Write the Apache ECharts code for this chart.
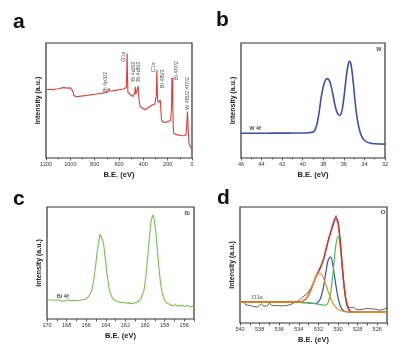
<!DOCTYPE html>
<html><head><meta charset="utf-8">
<script src="https://cdn.jsdelivr.net/npm/echarts@6/dist/echarts.min.js"></script>
<style>html,body{margin:0;padding:0;background:#fff}#c{width:420px;height:350px}</style>
</head><body><div id="c"></div>
<script>
// ---------- Panel a: survey spectrum [B.E., intensity] ----------
const surveyData = [
[1200,60],[1190,60.8],[1180,59.5],[1170,60.5],[1160,59.8],[1150,60.3],[1140,59.2],[1130,60.6],[1120,60.0],[1110,61.0],
[1100,60.2],[1090,59.6],[1080,60.7],[1070,60.1],[1060,61.2],[1050,60.4],[1040,61.0],[1030,61.4],[1020,60.8],[1010,61.6],
[1000,61.0],[992,62.0],[985,61.5],[978,58.0],[972,54.5],[965,53.0],[955,53.4],[945,52.8],[935,53.5],[925,53.1],
[915,53.8],[905,53.4],[895,54.0],[885,53.6],[875,54.3],[865,54.0],[855,54.6],[845,54.2],[835,54.9],[825,54.5],
[815,55.2],[805,54.8],[795,55.5],[785,55.1],[775,55.8],[765,55.4],[755,56.1],[745,55.7],[735,56.4],[725,56.0],
[715,56.8],[705,56.5],[695,57.2],[688,58.0],[682,60.5],[678,58.2],[670,57.5],[660,58.2],[650,57.8],[640,58.6],
[630,58.2],[620,59.0],[610,58.7],[600,59.4],[590,59.0],[580,59.8],[570,59.3],[560,60.0],[550,59.6],[545,60.4],
[540,61.5],[536,75],[533,91],[530,72],[527,57],[522,55.5],[515,56.2],[505,55.0],[495,54.3],[485,53.5],
[478,54.0],[470,56.5],[466,62.0],[462,55.5],[455,54.8],[447,56.0],[443,62.5],[439,55.0],[432,48.0],[425,44.5],
[415,44.0],[405,43.2],[395,42.8],[385,42.0],[375,43.0],[365,43.5],[355,44.2],[345,45.0],[335,45.5],[325,46.0],
[315,46.8],[305,47.0],[298,48.0],[293,55],[289,76.5],[286,62],[283,50],[278,48.5],[272,48.2],[266,48.0],
[262,50.5],[259,48.5],[255,40.0],[250,33.0],[245,31.5],[235,31.0],[225,31.8],[215,31.2],[205,32.0],[195,31.6],
[185,32.3],[175,33.0],[168,45],[165,69.5],[162,50],[159,70],[157,45],[154,26],[150,21.5],[140,20.8],
[130,20.3],[120,20.6],[110,19.9],[100,20.2],[90,19.6],[80,19.9],[70,19.4],[60,19.0],[50,20],[45,25],
[41,33],[37,40.5],[34,39],[31,25],[25,13],[18,11],[10,9.8],[5,8.5],[0,8.0]
];
const surveyLabels = ['Bi 4p3/2','O1s','Bi 4d3/2','Bi 4d5/2','C1s','Bi 4f5/2','Bi 4f7/2','W 4f5/2 4f7/2'];
const surveyLabelPos = [[715,66],[562,88],[478,75],[436,75],[316,79],[241,69],[126,76],[41,56]];

// ---------- Panel b: W 4f ----------
const wData = [
[46,21.5],[45,21.5],[44,21.5],[43,21.6],[42,21.6],[41,21.7],[40,21.8],[39.5,22.0],[39.0,22.6],[38.8,24.5],
[38.6,30],[38.4,40],[38.2,53],[38.0,62],[37.8,67.5],[37.6,69],[37.4,67],[37.2,61],[37.0,52],[36.8,43.5],
[36.6,38.5],[36.4,37],[36.2,40.5],[36.0,52],[35.8,68],[35.6,80.5],[35.45,84],[35.3,81],[35.1,67],[34.9,48],
[34.7,34],[34.5,25],[34.3,19.5],[34.1,16.3],[33.8,14],[33.4,12.8],[33.0,12.4],[32.5,12.2],[32,12.1]
];
const wLabels = ['W 4f','W'];
const wLabelPos = [[45.2,25.8],[32.6,94.5]];

// ---------- Panel c: Bi 4f (170.0 -> 155.0, step 0.1) ----------
const biStart = 170.0, biStep = 0.1;
const biI = [
17.2,16.5,17.6,16.9,17.8,16.2,17.0,16.4,17.5,16.8,
17.9,16.3,17.1,16.6,17.4,16.0,16.9,17.3,16.1,17.0,
16.5,17.2,15.9,16.8,16.2,17.1,15.8,16.7,16.1,17.0,
16.4,15.9,16.9,16.3,17.1,16.6,17.4,16.9,17.8,17.5,
18.3,18.6,19.6,20.4,22.3,24.1,26.8,30.9,36.5,43.4,
50.6,58.5,65.3,70.2,75.6,75.0,76.2,70.1,65.4,57.0,
50.3,41.6,35.9,29.1,25.4,22.1,20.6,18.4,17.9,16.5,
16.4,15.6,15.9,14.8,15.3,14.6,15.1,14.4,14.9,14.2,
14.7,14.0,14.6,13.9,14.4,13.8,14.5,13.7,14.3,14.0,
14.6,14.2,15.0,15.3,16.2,16.6,18.5,19.8,23.4,25.7,
32.3,39.0,48.8,57.6,68.9,77.2,86.1,90.2,93.0,90.9,
85.0,78.3,67.7,58.6,47.5,39.4,30.8,25.9,21.8,19.7,
16.8,16.1,14.3,14.2,12.9,13.2,12.3,12.9,11.8,12.6,
12.1,12.8,11.5,12.4,11.7,12.5,11.3,12.2,11.6,12.3,
11.2,12.0,11.4,12.1,10.9,11.8,11.2,11.9,10.8,11.5,
11.0
];
const biLabels = ['Bi 4f','Bi'];
const biLabelPos = [[169.0,20.5],[155.7,94]];

// ---------- Panel d: O 1s (raw 540.0 -> 525.0, step 0.2) ----------
const oStart = 540.0, oStep = 0.2;
const oRaw = [
17.5,16.2,17.8,15.6,16.9,15.1,16.4,14.2,15.9,13.8,
15.3,16.6,14.5,16.0,14.8,17.2,15.4,16.8,14.9,16.3,
15.0,16.1,14.7,15.8,15.2,16.5,16.0,17.4,17.9,18.6,
19.3,20.8,22.5,21.6,24.8,26.5,29.4,32.8,36.0,40.6,
44.1,47.0,51.9,56.3,63.8,70.5,77.2,83.5,88.9,92.6,
87.4,73.1,53.0,33.8,20.4,15.1,13.2,12.4,13.6,11.8,
12.9,11.5,13.1,12.0,10.9,12.6,11.3,12.2,10.8,11.9,
12.5,11.1,12.3,11.6,12.8,13.0
];
const fitBE = [540,538,536,535,534.5,534,533.75,533.5,533.25,533,532.75,532.5,532.25,532,531.75,531.5,531.25,531,530.75,530.5,530.25,530,529.75,529.5,529.25,529,528.75,528.5,528,527,526,525];
const fitEnvelope = [18,18,18,18,18,18.0,18.4,19.2,21.1,24.3,28.9,34.4,40.0,44.6,48.8,54.5,62.5,71.0,78.0,84.4,90.1,86.8,68.4,42.7,22.9,13.3,10.1,9.3,9.2,9.2,9.2,9.2];
const fitOrange   = [18,18,18,18,18,18.0,18.4,19.2,21.1,24.3,28.9,34.3,39.5,42.7,42.5,39.1,33.4,26.9,21.2,16.7,13.7,11.8,10.8,10.1,9.7,9.5,9.35,9.25,9.2,9.2,9.2,9.2];
const fitBlue     = [18,18,18,18,17.9,17.8,17.7,17.55,17.45,17.3,17.05,16.9,17.0,18.2,22.0,30.5,43.0,54.3,57.1,48.7,34.5,22.0,14.5,11.1,9.9,9.5,9.35,9.25,9.2,9.2,9.2,9.2];
const fitGreen    = [18,18,18,18,17.9,17.8,17.7,17.55,17.45,17.3,17.05,16.8,16.55,16.3,15.8,15.3,15.5,17.8,26.3,44.0,65.3,75,64.1,41.5,22.7,13.3,10.1,9.3,9.2,9.2,9.2,9.2];
const oLabels = ['O1s','O'];
const oLabelPos = [[538.8,22.2],[525.4,95]];

const panelLetters = ['a','b','c','d'];

// ---------- build ----------
const FONT = 'Liberation Sans, Arial, Helvetica, sans-serif';
const chart = echarts.init(document.getElementById('c'), null, {renderer:'canvas'});
const zip = (xs, ys) => xs.map((x,i)=>[x, ys[i]]);
const biData = biI.map((v,i)=>[+(biStart - i*biStep).toFixed(2), v]);
const oData = oRaw.map((v,i)=>[+(oStart - i*oStep).toFixed(2), v]);

const grids = [
  {left:46, top:43, width:146, height:115},
  {left:241, top:43, width:144, height:115},
  {left:47, top:207, width:147, height:112},
  {left:240, top:207, width:147, height:116}
].map(g=>Object.assign({show:true, borderColor:'#333', borderWidth:1.2, backgroundColor:'transparent', containLabel:false}, g));

const plainFmt = v => String(Math.round(v));
const evenFmt = v => (Math.round(v) % 2 === 0 ? String(Math.round(v)) : '');
function xAx(idx, min, max, interval, fmt, minor) {
  return {
    gridIndex: idx, type:'value', min, max, interval, inverse:true,
    axisLine:{show:false},
    axisTick:{show:true, length:2.5, inside:false, lineStyle:{color:'#333', width:0.8}},
    minorTick: minor ? {show:true, splitNumber:2, length:1.5, lineStyle:{color:'#333', width:0.8}} : {show:false},
    splitLine:{show:false},
    axisLabel:{fontSize:5.5, color:'#333', margin:3.5, fontFamily:FONT, formatter:fmt},
    name:'B.E. (eV)', nameLocation:'middle', nameGap:13,
    nameTextStyle:{fontSize:7.5, fontWeight:'bold', color:'#222', fontFamily:FONT}
  };
}
const xAxes = [
  xAx(0, 0, 1200, 200, plainFmt, true),
  xAx(1, 32, 46, 2, plainFmt, true),
  xAx(2, 155, 170, 1, evenFmt, false),
  xAx(3, 525, 540, 1, evenFmt, false)
];
const yAxes = [0,1,2,3].map(i=>({
  gridIndex:i, type:'value', min:0, max:100,
  axisLine:{show:false}, axisTick:{show:false}, axisLabel:{show:false}, splitLine:{show:false},
  name:'Intensity (a.u.)', nameLocation:'middle', nameGap:4, nameRotate:90,
  nameTextStyle:{fontSize:7, fontWeight:'bold', color:'#222', fontFamily:FONT}
}));

function lineS(idx, data, color, width, smooth, z) {
  return {type:'line', xAxisIndex:idx, yAxisIndex:idx, data, symbol:'none', smooth:smooth||false,
    lineStyle:{color, width}, silent:true, animation:false, z:z||2};
}
function labelS(idx, names, pos, opts) {
  return {type:'scatter', xAxisIndex:idx, yAxisIndex:idx, symbolSize:0, silent:true, animation:false, z:10,
    data: names.map((n,i)=>({name:n, value:pos[i]})),
    label:Object.assign({show:true, formatter:'{b}', position:[0,0], fontFamily:FONT, color:'#1a1a1a'}, opts)};
}

const series = [
  lineS(0, surveyData, '#e63b35', 1.1),
  labelS(0, surveyLabels, surveyLabelPos, {rotate:90, fontSize:5.5, align:'center', verticalAlign:'middle'}),
  lineS(1, wData, '#3d4fae', 1.6, 0.35),
  labelS(1, wLabels, wLabelPos, {fontSize:5.5, fontWeight:'bold', align:'left', verticalAlign:'middle'}),
  lineS(2, biData, '#72c44c', 1.1),
  labelS(2, biLabels, biLabelPos, {fontSize:5.5, fontWeight:'bold', align:'left', verticalAlign:'middle'}),
  lineS(3, oData, '#3a3a3a', 0.8, false, 2),
  lineS(3, zip(fitBE, fitBlue), '#3452b4', 1.2, 0.3, 3),
  lineS(3, zip(fitBE, fitGreen), '#4cb84a', 1.2, 0.3, 3),
  lineS(3, zip(fitBE, fitEnvelope), '#e0302a', 1.5, 0.3, 4),
  lineS(3, zip(fitBE, fitOrange), '#e8921a', 1.2, 0.3, 5),
  labelS(3, oLabels, oLabelPos, {fontSize:6, align:'left', verticalAlign:'middle'})
];
series[3].data[1].label = {align:'center'};
series[5].data[1].label = {align:'center'};
series[11].data[1].label = {align:'center', fontWeight:'bold'};

const letterPos = [[13,23],[216,21],[13,200],[217,199]];
const graphic = panelLetters.map((t,i)=>({
  type:'text', left:letterPos[i][0], top:letterPos[i][1]-11, silent:true,
  style:{text:t, fontSize:21, fontWeight:'bold', fill:'#111', fontFamily:FONT}
}));

chart.setOption({
  animation:false, backgroundColor:'#fff',
  grid:grids, xAxis:xAxes, yAxis:yAxes, series, graphic
});
</script></body></html>
